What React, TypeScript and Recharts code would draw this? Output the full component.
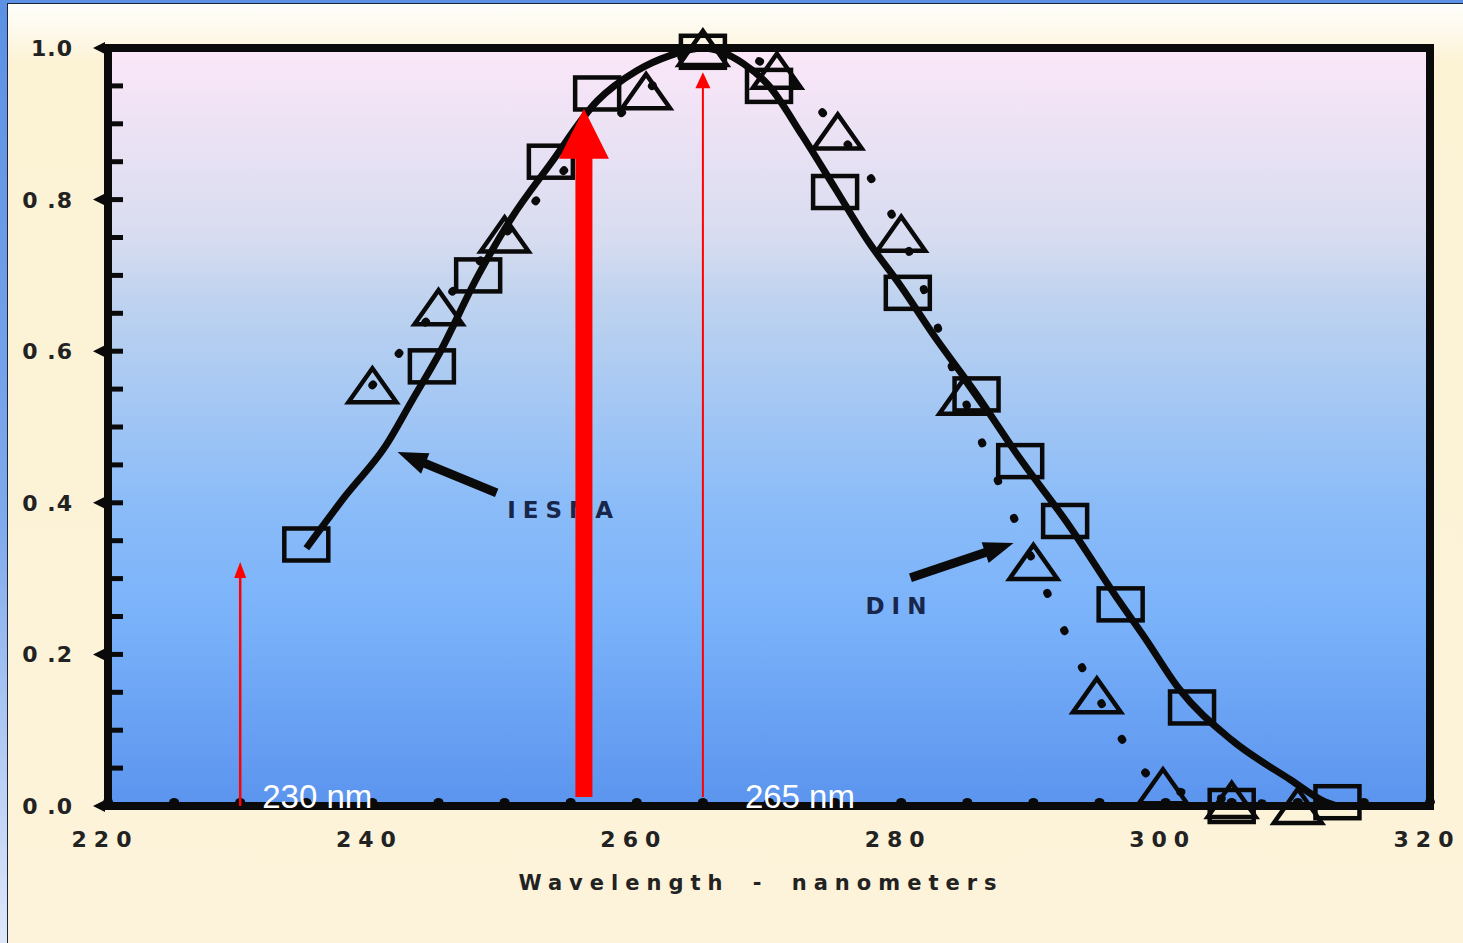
import React from 'react';
import {
  ComposedChart,
  Line,
  Scatter,
  XAxis,
  YAxis,
  CartesianGrid,
  ReferenceArea,
  ReferenceLine,
  ReferenceDot,
  Label,
} from 'recharts';

// IESNA action spectrum: smooth fitted curve
const iesnaCurveNm = [235, 238, 241, 243, 245, 248, 250.5, 253.5, 257, 260, 262.5, 265, 268, 270, 272.5, 275, 277.5, 280, 282.5, 285.5, 289, 292.5, 296.5, 298.5, 301, 305, 309.5, 312, 313];
const iesnaCurveVal = [0.34, 0.41, 0.475, 0.535, 0.595, 0.7, 0.775, 0.848, 0.93, 0.97, 0.99, 1.0, 0.98, 0.95, 0.885, 0.815, 0.745, 0.685, 0.62, 0.548, 0.458, 0.375, 0.27, 0.22, 0.155, 0.087, 0.034, 0.006, 0];

// IESNA measured points (squares)
const iesnaPtsNm = [235, 244.5, 248, 253.5, 257, 265, 270, 275, 280.5, 285.7, 289, 292.4, 296.6, 302, 305, 313];
const iesnaPtsVal = [0.345, 0.58, 0.7, 0.85, 0.94, 0.995, 0.95, 0.81, 0.677, 0.543, 0.455, 0.376, 0.266, 0.13, 0, 0.005];

// DIN points (triangles), joined by a dotted curve
const dinNm = [240, 245, 250, 260.7, 265, 270.6, 275.2, 280, 284.7, 290, 294.8, 299.8, 305, 310];
const dinVal = [0.555, 0.658, 0.754, 0.943, 1.0, 0.97, 0.89, 0.755, 0.54, 0.322, 0.146, 0.026, 0.008, 0];

// red pointers: wavelength, foot and tip
const pointerNm = [230, 256, 265];
const pointerFrom = [0, 0.012, 0.012];
const pointerTo = [0.322, 0.92, 0.968];

const xTicks = [220, 225, 230, 235, 240, 245, 250, 255, 260, 265, 270, 275, 280, 285, 290, 295, 300, 305, 310, 315, 320];
const yTicks = [0, 0.05, 0.1, 0.15, 0.2, 0.25, 0.3, 0.35, 0.4, 0.45, 0.5, 0.55, 0.6, 0.65, 0.7, 0.75, 0.8, 0.85, 0.9, 0.95, 1.0];
const yTickText = ['0 .0', '0 .2', '0 .4', '0 .6', '0 .8', '1.0'];

const toPoints = (xs: number[], ys: number[]) => xs.map((x, i) => ({ x, y: ys[i] }));

const iesnaCurve = toPoints(iesnaCurveNm, iesnaCurveVal);
const iesnaPoints = toPoints(iesnaPtsNm, iesnaPtsVal);
const dinPoints = toPoints(dinNm, dinVal);

const INK = '#0a0a0a';
const FONT = '"DejaVu Sans", sans-serif';

function XTick(props: any) {
  const { x, y, payload } = props;
  const v = payload.value as number;
  return (
    <g>
      <ellipse cx={x} cy={y - 4} rx={5} ry={4} fill={INK} />
      {v % 20 === 0 && (
        <text x={x - 3} y={y + 41} textAnchor="middle" fontFamily={FONT} fontWeight="bold" fontSize={22} letterSpacing={7} fill="#222">
          {v}
        </text>
      )}
    </g>
  );
}

function YTick(props: any) {
  const { x, y, payload } = props;
  const k = Math.round((payload.value as number) * 20);
  const major = k % 4 === 0;
  return (
    <g>
      <line x1={x} x2={x + 15} y1={y} y2={y} stroke={INK} strokeWidth={5} />
      {major && (
        <>
          <polygon points={`${x - 15},${y} ${x - 3},${y - 6} ${x - 3},${y + 6}`} fill={INK} />
          <text x={x - 35} y={y + 8} textAnchor="end" fontFamily={FONT} fontWeight="bold" fontSize={22} letterSpacing={1} fill="#222">
            {yTickText[k / 4]}
          </text>
        </>
      )}
    </g>
  );
}

const Square = (p: any) => (
  <rect x={p.cx - 22} y={p.cy - 16} width={44} height={32} fill="none" stroke={INK} strokeWidth={4.5} />
);

const Triangle = (p: any) => (
  <polygon
    points={`${p.cx - 24},${p.cy + 17} ${p.cx},${p.cy - 17} ${p.cx + 24},${p.cy + 17}`}
    fill="none"
    stroke={INK}
    strokeWidth={4.5}
    strokeLinejoin="miter"
  />
);

// straight arrow from (x1,y1) to tip (x2,y2)
const arrow = (color: string, shaft: number, headW: number, headL: number) => (p: any) => {
  const { x1, y1, x2, y2 } = p;
  const len = Math.hypot(x2 - x1, y2 - y1) || 1;
  const ux = (x2 - x1) / len;
  const uy = (y2 - y1) / len;
  const bx = x2 - ux * headL;
  const by = y2 - uy * headL;
  const nx = -uy * (headW / 2);
  const ny = ux * (headW / 2);
  return (
    <g>
      <line x1={x1} y1={y1} x2={bx + ux} y2={by + uy} stroke={color} strokeWidth={shaft} />
      <polygon points={`${x2},${y2} ${bx + nx},${by + ny} ${bx - nx},${by - ny}`} fill={color} />
    </g>
  );
};

const note = (text: string) => (p: any) => (
  <text x={p.cx} y={p.cy} fontFamily={FONT} fontWeight="bold" fontSize={23} letterSpacing={7} fill="#17264a">
    {text}
  </text>
);

const nmLabel = (nm: number, dx: number) => (p: any) => (
  <text x={p.cx + dx} y={p.cy + 2} fontFamily='"Liberation Sans", Arial, sans-serif' fontSize={33} fill="#ffffff">
    {`${nm} nm`}
  </text>
);

export default function App() {
  return (
    <div
      style={{
        position: 'absolute',
        left: 0,
        top: 0,
        width: 1463,
        height: 943,
        overflow: 'hidden',
        background: 'linear-gradient(180deg, #5b90e4 0%, #7ea9ec 55%, #dfe8fa 100%)',
      }}
    >
      <div
        style={{
          position: 'absolute',
          left: 7,
          top: 3,
          right: 0,
          bottom: 0,
          borderLeft: '1.5px solid #1d2436',
          borderTop: '1.5px solid #1d2436',
          background: 'linear-gradient(180deg, #fffefb 0px, #fefaee 22px, #fcf2d4 60px, #fcf3da 100%)',
        }}
      />
      <div style={{ position: 'absolute', left: 0, top: 0 }}>
        <ComposedChart width={1463} height={943} margin={{ top: 48, right: 33, bottom: 77, left: 0 }}>
          <defs>
            <linearGradient id="plotBg" x1="0" y1="0" x2="0" y2="1">
              <stop offset="0%" stopColor="#fbe7f8" />
              <stop offset="25%" stopColor="#d8dcf0" />
              <stop offset="33%" stopColor="#bfd3ef" />
              <stop offset="60%" stopColor="#8bbcf8" />
              <stop offset="75%" stopColor="#7ab2fa" />
              <stop offset="100%" stopColor="#5b94ee" />
            </linearGradient>
          </defs>
          <CartesianGrid fill="url(#plotBg)" horizontal={false} vertical={false} stroke="none" />
          <XAxis
            type="number"
            dataKey="x"
            domain={[220, 320]}
            ticks={xTicks}
            interval={0}
            height={60}
            tickSize={0}
            tickMargin={0}
            tickLine={false}
            axisLine={{ stroke: INK, strokeWidth: 8 }}
            tick={(p: any) => <XTick {...p} />}
          >
            <Label
              position="bottom"
              content={({ viewBox }: any) => (
                <text
                  x={viewBox.x + viewBox.width / 2 - 8}
                  y={viewBox.y + 84}
                  textAnchor="middle"
                  fontFamily={FONT}
                  fontWeight="bold"
                  fontSize={21}
                  letterSpacing={7}
                  wordSpacing={9}
                  fill="#222"
                >
                  Wavelength - nanometers
                </text>
              )}
            />
          </XAxis>
          <YAxis
            type="number"
            domain={[0, 1]}
            ticks={yTicks}
            interval={0}
            width={108}
            tickSize={0}
            tickMargin={0}
            tickLine={false}
            axisLine={{ stroke: INK, strokeWidth: 8 }}
            tick={(p: any) => <YTick {...p} />}
          />
          <ReferenceArea x1={220} x2={320} y1={0} y2={1} fill="none" stroke={INK} strokeWidth={8} ifOverflow="visible" />

          <ReferenceDot x={250.2} y={0.38} r={0} shape={note('IESNA')} />
          <ReferenceDot x={277.3} y={0.253} r={0} shape={note('DIN')} />
          <ReferenceLine segment={[{ x: 249.4, y: 0.413 }, { x: 241.9, y: 0.467 }]} shape={arrow(INK, 9, 22, 30)} />
          <ReferenceLine segment={[{ x: 280.7, y: 0.301 }, { x: 288.5, y: 0.347 }]} shape={arrow(INK, 9, 22, 30)} />

          <Line
            data={dinPoints}
            dataKey="y"
            type="monotone"
            stroke={INK}
            strokeWidth={8}
            strokeDasharray="1 40"
            strokeLinecap="round"
            dot={false}
            isAnimationActive={false}
          />
          <Line
            data={iesnaCurve}
            dataKey="y"
            type="monotone"
            stroke={INK}
            strokeWidth={7}
            dot={false}
            isAnimationActive={false}
          />
          <Scatter data={iesnaPoints} dataKey="y" shape={Square} isAnimationActive={false} />
          <Scatter data={dinPoints} dataKey="y" shape={Triangle} isAnimationActive={false} />

          <ReferenceLine
            segment={[{ x: pointerNm[0], y: pointerFrom[0] }, { x: pointerNm[0], y: pointerTo[0] }]}
            shape={arrow('#ff0000', 2.5, 12, 16)}
            zIndex={3000}
          />
          <ReferenceLine
            segment={[{ x: pointerNm[1], y: pointerFrom[1] }, { x: pointerNm[1], y: pointerTo[1] }]}
            shape={arrow('#ff0000', 17, 50, 50)}
            zIndex={3000}
          />
          <ReferenceLine
            segment={[{ x: pointerNm[2], y: pointerFrom[2] }, { x: pointerNm[2], y: pointerTo[2] }]}
            shape={arrow('#ff0000', 2, 15, 16)}
            zIndex={3000}
          />
          <ReferenceDot x={pointerNm[0]} y={0} r={0} shape={nmLabel(pointerNm[0], 22)} zIndex={3000} />
          <ReferenceDot x={pointerNm[2]} y={0} r={0} shape={nmLabel(pointerNm[2], 42)} zIndex={3000} />
        </ComposedChart>
      </div>
    </div>
  );
}
